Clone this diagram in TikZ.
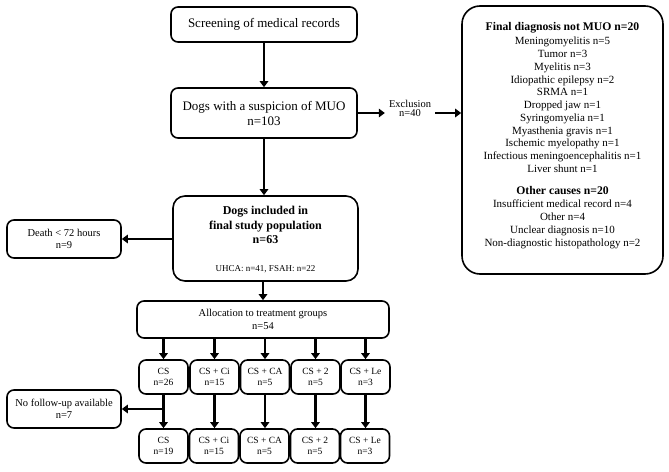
\documentclass[tikz,border=0pt]{standalone}
\usepackage{fontspec}
\setmainfont{Liberation Serif}
\usetikzlibrary{arrows.meta,calc}
\tikzset{
  boxs/.style={draw=black, line width=1.6pt, rounded corners=7pt, align=center, inner sep=0pt},
  arr/.style={line width=2.6pt, -{Triangle[length=6pt,width=8.5pt]}},
  big/.style={font=\fontsize{13}{15}\selectfont},
  mid/.style={font=\fontsize{10.5}{12.5}\selectfont},
  sml/.style={font=\fontsize{9.5}{11.5}\selectfont},
}
\begin{document}
\begin{tikzpicture}[x=1pt,y=-1pt]
\useasboundingbox (0,0) rectangle (669,471);
% main column
\node[boxs, big, minimum width=186pt, minimum height=35pt] (screen) at (264,24.5) {Screening of medical records};
\node[boxs, big, minimum width=186pt, minimum height=50pt] (muo) at (264,113) {Dogs with a suspicion of MUO\\n=103};
\node[boxs, rounded corners=12pt, minimum width=185pt, minimum height=85pt] (final) at (265.5,238.5) {};
\node[font=\fontsize{12}{14.5}\selectfont\bfseries, align=center, anchor=north] (finalt) at (265.5,203) {Dogs included in\\final study population\\n=63};
\node[font=\fontsize{9}{11}\selectfont, anchor=base] (finalu) at (265.5,271) {UHCA: n=41, FSAH: n=22};
\node[boxs, mid, minimum width=114pt, minimum height=38pt] (death) at (64,239) {Death \textless{} 72 hours\\n=9};
\node[boxs, mid, minimum width=252pt, minimum height=37pt] (alloc) at (263,319.5) {Allocation to treatment groups\\n=54};
% right box
\node[boxs, rounded corners=18pt, minimum width=201pt, minimum height=268pt] (right) at (562.5,140) {};
\node[anchor=north, align=center, font=\fontsize{11}{12.75}\selectfont] (rightt) at (562.5,19) {{\fontsize{11.7}{14}\selectfont\bfseries Final diagnosis not MUO n=20}\\[1.5pt]
Meningomyelitis n=5\\Tumor n=3\\Myelitis n=3\\Idiopathic epilepsy n=2\\SRMA n=1\\Dropped jaw n=1\\Syringomyelia n=1\\Myasthenia gravis n=1\\Ischemic myelopathy n=1\\Infectious meningoencephalitis n=1\\Liver shunt n=1\\[9pt]
{\fontsize{11.7}{14}\selectfont\bfseries Other causes n=20}\\[1pt]
Insufficient medical record n=4\\Other n=4\\Unclear diagnosis n=10\\Non-diagnostic histopathology n=2};
\node[align=center, font=\fontsize{10.5}{9.5}\selectfont, inner xsep=2pt, inner ysep=0pt, text width=46pt] (excl) at (410,108.5) {Exclusion\\n=40};
% groups row 1
\node[boxs, sml, minimum width=49pt, minimum height=34pt] (g1) at (163.5,377) {CS\\n=26};
\node[boxs, sml, minimum width=49pt, minimum height=34pt] (g2) at (214.5,377) {CS + Ci\\n=15};
\node[boxs, sml, minimum width=49pt, minimum height=34pt] (g3) at (265,377) {CS + CA\\n=5};
\node[boxs, sml, minimum width=49pt, minimum height=34pt] (g4) at (315.5,377) {CS + 2\\n=5};
\node[boxs, sml, minimum width=49pt, minimum height=34pt] (g5) at (365.5,377) {CS + Le\\n=3};
% groups row 2
\node[boxs, sml, minimum width=49pt, minimum height=34pt] (h1) at (163.5,446) {CS\\n=19};
\node[boxs, sml, minimum width=49pt, minimum height=34pt] (h2) at (214,446) {CS + Ci\\n=15};
\node[boxs, sml, minimum width=49pt, minimum height=34pt] (h3) at (264.5,446) {CS + CA\\n=5};
\node[boxs, sml, minimum width=49pt, minimum height=34pt] (h4) at (315,446) {CS + 2\\n=5};
\node[boxs, sml, minimum width=49pt, minimum height=34pt] (h5) at (365,446) {CS + Le\\n=3};
\node[boxs, mid, minimum width=114pt, minimum height=38pt] (nofu) at (64,409) {No follow-up available\\n=7};
% connectors
\draw[arr] (screen) -- (muo);
\draw[arr] (muo) -- (muo.south |- final.north);
\draw[arr] (final.west |- death.east) -- (death.east);
\draw[arr] (muo.east) -- (muo.east -| excl.west);
\draw[arr] (excl.east |- muo.east) -- (right.west |- muo.east);
\draw[arr] (final.south -| alloc.north) -- (alloc.north);
\foreach \g in {g1,g2,g3,g4,g5}{
  \draw[arr] (\g.north |- alloc.south) -- (\g.north);
}
\draw[arr] (g1) -- (h1);
\draw[arr] (g2.south) -- (g2.south |- h2.north);
\draw[arr] (g3.south) -- (g3.south |- h3.north);
\draw[arr] (g4.south) -- (g4.south |- h4.north);
\draw[arr] (g5.south) -- (g5.south |- h5.north);
\coordinate (split) at (g1.south |- nofu.east);
\draw[arr] (split) -- (nofu.east);
\end{tikzpicture}
\end{document}
